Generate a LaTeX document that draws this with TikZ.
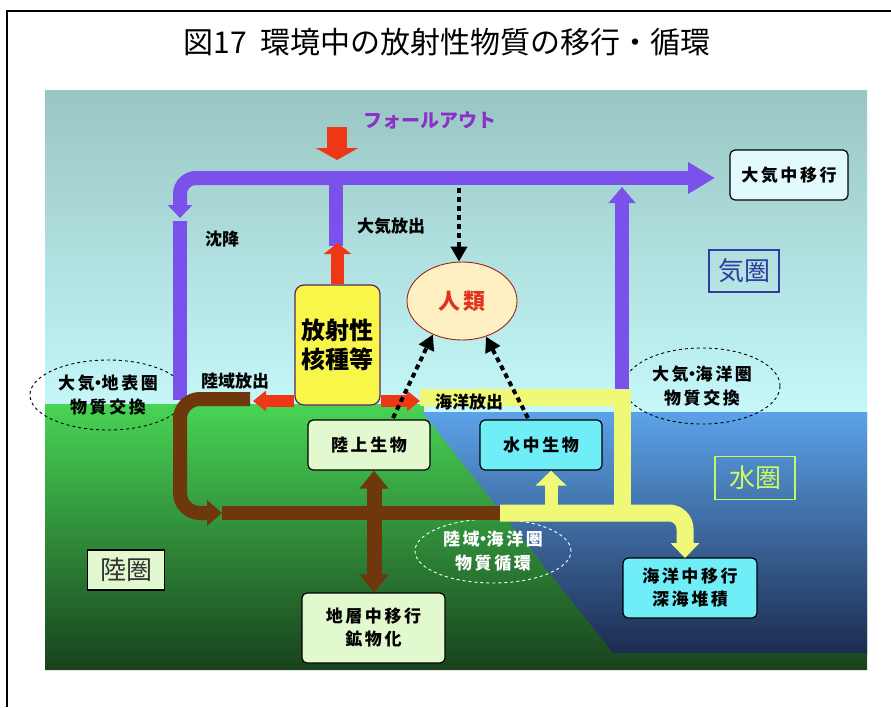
\documentclass[tikz,border=0pt]{standalone}
\usepackage{fontspec}
\newfontfamily\jp{Noto Sans CJK JP}
\newfontfamily\jpsp[LetterSpace=15]{Noto Sans CJK JP}
\usetikzlibrary{arrows.meta,shapes.geometric}
\definecolor{skytop}{RGB}{152,198,194}
\definecolor{skybot}{RGB}{198,248,250}
\definecolor{landtop}{RGB}{72,212,84}
\definecolor{landmid}{RGB}{40,140,55}
\definecolor{landbot}{RGB}{24,66,30}
\definecolor{seatop}{RGB}{92,162,232}
\definecolor{seamid}{RGB}{60,105,170}
\definecolor{seabot}{RGB}{28,44,80}
\definecolor{purp}{RGB}{122,82,235}
\definecolor{redA}{RGB}{238,55,22}
\definecolor{brownA}{RGB}{110,55,12}
\definecolor{yelA}{RGB}{240,248,120}
\definecolor{boxyel}{RGB}{248,246,72}
\definecolor{boxgreen}{RGB}{226,248,206}
\definecolor{boxcyan}{RGB}{112,238,248}
\definecolor{boxlight}{RGB}{226,250,252}
\definecolor{fallc}{RGB}{140,48,200}
\definecolor{kiblue}{RGB}{50,60,160}
\definecolor{jinred}{RGB}{225,50,30}
\definecolor{jinfill}{RGB}{255,240,196}
\definecolor{hoshaedge}{RGB}{90,40,90}
\newcommand{\hdot}{\kern-5pt・\kern-5pt}
\begin{document}
\begin{tikzpicture}[x=1pt,y=-1pt,
  lbox/.style={draw=black, line width=1.2pt, rounded corners=5pt, inner sep=0pt,
    align=center, font=\jpsp\bfseries\fontsize{17}{23}\selectfont},
  lbl/.style={inner sep=0pt, font=\jp\bfseries\fontsize{17}{20}\selectfont},
  ellbox/.style={ellipse, draw=black, dashed, line width=0.9pt, inner sep=0pt,
    align=center, font=\jpsp\bfseries\fontsize{17}{24}\selectfont},
  kbox/.style={draw, line width=1.3pt, inner sep=0pt, minimum width=70pt, minimum height=42pt,
    font=\jp\fontsize{26}{28}\selectfont},
  purpleflow/.style={draw=purp, line width=14pt},
  redflow/.style={draw=redA, line width=12pt},
  brownflow/.style={draw=brownA, line width=14pt},
  yellowflow/.style={draw=yelA, line width=17pt},
  dotflow/.style={draw=black, line width=4pt, dash pattern=on 5pt off 4pt,
    -{Triangle[width=16pt,length=15pt]}}
]
\useasboundingbox (0,0) rectangle (891,707);
\fill[white] (0,0) rectangle (891,707);
% frame
\draw[line width=2.5pt] (7,707) -- (7,11) -- (891,11);
% title
\node (title) at (447,42) {\jp\fontsize{30}{32}\selectfont 図17\hspace{14pt}環境中の放射性物質の移行・循環};
% background panel
\shade[top color=skytop, bottom color=skybot] (45,90) rectangle (867,412);
\shade[top color=landtop, middle color=landmid, bottom color=landbot]
  (45,404) -- (424,404) -- (424,412) -- (867,412) -- (867,670) -- (45,670) -- cycle;
\shade[top color=seatop, middle color=seamid, bottom color=seabot] (422,412) -- (867,412) -- (867,653) -- (613,653) -- cycle;

% nodes
\node[lbox, fill=boxlight, minimum width=118pt, minimum height=50pt] (taiki) at (789,175) {大気中移行};
\node[kbox, draw=kiblue, text=kiblue] (kiken) at (744,271) {気圏};
\node[ellipse, draw=jinred!70!black, line width=0.9pt, fill=jinfill, minimum width=110pt, minimum height=78pt,
  text=jinred, font=\jp\bfseries\fontsize{22}{24}\selectfont] (jinrui) at (462,301) {人\,類};
\node[lbox, draw=hoshaedge, fill=boxyel, rounded corners=9pt, minimum width=85pt, minimum height=120pt,
  font=\jp\bfseries\fontsize{24}{29}\selectfont] (hosha) at (337.5,345) {放射性\\核種等};
\node[ellbox, minimum width=156pt, minimum height=70pt] (ex1) at (108,395) {大気\hdot 地表圏\\物質交換};
\node[ellbox, minimum width=156pt, minimum height=76pt] (ex2) at (702,386) {大気\hdot 海洋圏\\物質交換};
\node[lbox, fill=boxgreen, minimum width=122pt, minimum height=50pt] (rikujo) at (369,445) {陸上生物};
\node[lbox, fill=boxcyan, minimum width=122pt, minimum height=50pt] (suichu) at (541,445) {水中生物};
\node[kbox, draw=yelA!80!green, text=yelA!85!green, line width=1.5pt, minimum width=80pt, minimum height=43pt] (suiken) at (755,478) {水圏};
\node[ellbox, draw=white, text=white, minimum width=156pt, minimum height=64pt] (ex3) at (493,551) {陸域\hdot 海洋圏\\物質循環};
\node[lbox, fill=boxcyan, minimum width=134pt, minimum height=60pt] (kaiyo) at (690,588) {海洋中移行\\深海堆積};
\node[kbox, draw=black, fill=boxgreen, text=black!80, minimum width=77pt, minimum height=40pt] (rikuken) at (126,570) {陸圏};
\node[lbox, fill=boxgreen, minimum width=143pt, minimum height=70pt] (chiso) at (373.5,628) {地層中移行\\鉱物化};

% coordinates for flows
\coordinate (pTop) at (336,178);
\coordinate (pLeft) at (180,178);
\coordinate (pLeftTip) at (180,218);
\coordinate (pLeftLow) at (180,221);
\coordinate (pRightTip) at (715,178);
\coordinate (pMid) at (336,246);
\coordinate (pUp) at (622,398);
\coordinate (pUpTip) at (622,187);
\coordinate (foTop) at (337,127);
\coordinate (foTip) at (337,160);
\coordinate (rUpTip) at (337.5,243);
\coordinate (yRed) at (0,401);
\coordinate (rLTip) at (253,401);
\coordinate (rRTip) at (420,401);
\coordinate (bStart) at (250,399);
\coordinate (bCornerA) at (180,399);
\coordinate (bCornerB) at (180,513);
\coordinate (bTip) at (222,513);
\coordinate (bEnd) at (500,513);
\coordinate (yStart) at (420,397);
\coordinate (yCorner) at (622,397);
\coordinate (yJoin) at (622,513);
\coordinate (yCurve) at (685,513);
\coordinate (yTip) at (685,558);
\coordinate (yUpBase) at (551,513);
\coordinate (bx) at (374,0);
\coordinate (d1) at (459,188);
\coordinate (d2) at (393,418);
\coordinate (d3) at (528,418);

% purple flows
\draw[purpleflow] (pLeftLow) -- (180,400);
\draw[purpleflow] (pTop) -- (pMid);
\draw[purpleflow, -{Triangle[width=30pt,length=27pt]}] (pTop) -- (pRightTip);
\draw[purpleflow, rounded corners=16pt, -{Triangle[width=24pt,length=13pt]}] (pTop) -- (pLeft) -- (pLeftTip);
\draw[purpleflow, -{Triangle[width=26pt,length=16pt]}] (pUp) -- (pUpTip);
% yellow flows
\draw[yellowflow] (yStart) -- (yCorner) -- (yJoin);
% brown flows
\draw[brownflow, rounded corners=20pt, -{Triangle[width=25pt,length=15pt]}] (bStart) -- (bCornerA) -- (bCornerB) -- (bTip);
\draw[brownflow] (bTip) -- (bEnd);
\draw[yellowflow, rounded corners=16pt, -{Triangle[width=28pt,length=15pt]}] (bEnd) -- (yCurve) -- (yTip);
\draw[yellowflow, line width=13pt, -{Triangle[width=30pt,length=15pt]}] (yUpBase) -- ([xshift=10pt]suichu.south);
\draw[brownflow, line width=15pt, {Triangle[width=28pt,length=18pt]}-{Triangle[width=28pt,length=18pt]}]
  (rikujo.south -| bx) -- (chiso.north -| bx);
% red flows
\draw[redflow, line width=20pt, -{Triangle[width=42pt,length=12pt]}] (foTop) -- (foTip);
\draw[redflow, line width=13pt, -{Triangle[width=27pt,length=11pt]}] (hosha.north) -- (rUpTip);
\draw[redflow, -{Triangle[width=20pt,length=13pt]}] (hosha.west |- yRed) -- (rLTip);
\draw[redflow, -{Triangle[width=20pt,length=13pt]}] (hosha.east |- yRed) -- (rRTip);
% dotted flows to humans
\draw[dotflow] (d1) -- (d1 |- jinrui.north);
\draw[dotflow] (d2) -- (jinrui.229);
\draw[dotflow] (d3) -- (jinrui.-56);

% labels (on top)
\node[inner sep=0pt, text=fallc, font=\jp\bfseries\fontsize{19}{22}\selectfont] (fallout) at (430,121) {フォールアウト};
\node[lbl] (lbtaiki) at (391,226) {大気放出};
\node[lbl] (lbchinko) at (222,239) {沈降};
\node[lbl] (lbriku) at (235,381) {陸域放出};
\node[lbl] (lbkaiyo) at (469,402) {海洋放出};
\end{tikzpicture}
\end{document}
